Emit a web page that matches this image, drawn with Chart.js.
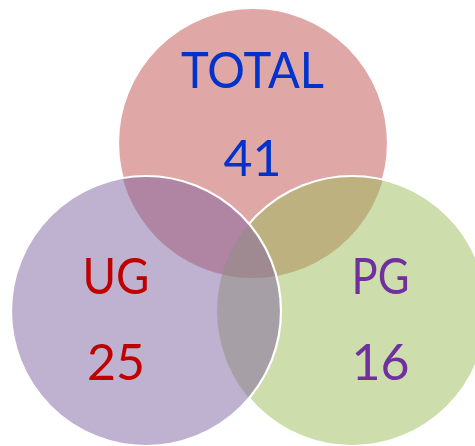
<!DOCTYPE html>
<html><head><meta charset="utf-8">
<script src="https://cdn.jsdelivr.net/npm/chart.js@4"></script>
<style>html,body{margin:0;padding:0;background:#fff;overflow:hidden}#wrap{width:475px;height:446px}</style>
</head><body><div id="wrap"><canvas id="c" width="475" height="446"></canvas></div>
<script>
// ---- data ----
const categories = ['TOTAL', 'UG', 'PG'];
const counts = [41, 25, 16];
// ---- layout (data-space units on the hidden scales) ----
const centerX = [253, 146, 352];
const centerY = [143, 311, 311];
const labelX = [252.5, 116, 380.5];
const nameBaseY = [88, 294, 294];
const countBaseY = [176, 380, 380];
// ---- styles ----
const circleRadius = 135;
const nameMaxWidth = [143, 67, 58];
const fillColors = ['rgba(192,80,77,0.5)', 'rgba(128,100,162,0.5)', 'rgba(155,187,89,0.5)'];
const textColors = ['#0033CC', '#C00000', '#7030A0'];
const drawOrder = [3, 1, 2]; // higher = drawn earlier (below)

const outlinePlugin = {
  id: 'vennOutline',
  afterDatasetsDraw(chart) {
    const ctx = chart.ctx;
    const circles = chart.data.datasets.map((ds, i) => {
      const el = chart.getDatasetMeta(i).data[0];
      return { x: el.x, y: el.y, r: el.options.radius, order: ds.order };
    }).sort((a, b) => b.order - a.order);
    circles.forEach((c, k) => {
      ctx.save();
      for (let j = k + 1; j < circles.length; j++) {
        const o = circles[j];
        ctx.beginPath();
        ctx.rect(0, 0, chart.width, chart.height);
        ctx.moveTo(o.x + o.r, o.y);
        ctx.arc(o.x, o.y, o.r, 0, Math.PI * 2);
        ctx.clip('evenodd');
      }
      ctx.beginPath();
      ctx.arc(c.x, c.y, c.r, 0, Math.PI * 2);
      ctx.lineWidth = 2.2;
      ctx.strokeStyle = '#ffffff';
      ctx.stroke();
      ctx.restore();
    });
  }
};

const labelPlugin = {
  id: 'vennLabels',
  afterDatasetsDraw(chart) {
    const ctx = chart.ctx;
    const xs = chart.scales.x, ys = chart.scales.y;
    ctx.save();
    ctx.textAlign = 'center';
    ctx.textBaseline = 'alphabetic';
    ctx.font = '50px Lato';
    categories.forEach((name, i) => {
      const px = xs.getPixelForValue(labelX[i]);
      ctx.fillStyle = textColors[i];
      ctx.fillText(name, px, ys.getPixelForValue(nameBaseY[i]), nameMaxWidth[i]);
      ctx.fillText(String(counts[i]), px, ys.getPixelForValue(countBaseY[i]));
    });
    ctx.restore();
  }
};

new Chart(document.getElementById('c'), {
  type: 'bubble',
  data: {
    datasets: categories.map((c, i) => ({
      label: c,
      data: [{ x: centerX[i], y: centerY[i] }],
      backgroundColor: fillColors[i],
      borderWidth: 0,
      radius: circleRadius,
      hoverRadius: 0,
      order: drawOrder[i],
      clip: false
    }))
  },
  options: {
    responsive: false,
    animation: false,
    events: [],
    layout: { padding: 0, autoPadding: false },
    plugins: { legend: { display: false }, tooltip: { enabled: false }, title: { display: false } },
    scales: {
      x: { type: 'linear', display: false, min: 0, max: 475 },
      y: { type: 'linear', display: false, min: 0, max: 446, reverse: true }
    }
  },
  plugins: [outlinePlugin, labelPlugin]
});
</script>
</body></html>
